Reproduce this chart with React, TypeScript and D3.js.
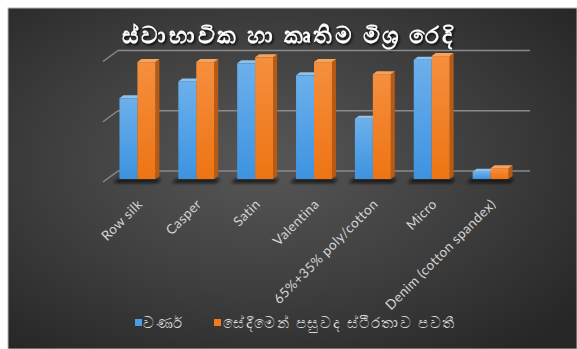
import React from "react";
import * as d3 from "d3";

const categories = ["Row silk", "Casper", "Satin", "Valentina", "65%+35% poly/cotton", "Micro", "Denim (cotton spandex)"];
const seriesNames = ["වර්ණ", "සේදීමෙන් පසුවද ස්ථීරතාව පවතී"];
const colourValues = [67, 81, 96, 86, 50, 99, 6];
const fastnessValues = [97, 97, 101, 97, 87, 102, 9];
const gridTicks = [0, 50, 100];
const title = "ස්වාභාවික හා කෘතිම මිශ්‍ර රෙදි";

const W = 577;
const H = 349;

export default function App() {
  const x = d3.scaleBand<string>().domain(categories).range([108, 520]).paddingInner(0.39).paddingOuter(0.195);
  const xs = d3.scaleBand<number>().domain([0, 1]).range([0, x.bandwidth()]);
  const y = d3.scaleLinear().domain([0, 100]).range([179, 58.5]);
  const series = [colourValues, fastnessValues];
  const fronts = ["url(#gBlue)", "url(#gOrange)"];
  const sides = ["#2f75b8", "#b85a12"];
  const tops = ["#8cc2f0", "#f7a35c"];
  const legendColors = ["#4a9ee6", "#f07c1e"];
  const dx = 4, dy = -3;
  const font = "Lato, 'Noto Sans', 'DejaVu Sans', sans-serif";

  return (
    <svg width={W} height={H} style={{ position: "absolute", left: 0, top: 0, display: "block" }} fontFamily={font}>
      <defs>
        <radialGradient id="bg" cx="45%" cy="45%" r="70%">
          <stop offset="0%" stopColor="#575757" />
          <stop offset="55%" stopColor="#3e3e3e" />
          <stop offset="100%" stopColor="#272727" />
        </radialGradient>
        <linearGradient id="gBlue" x1="0" y1="0" x2="0" y2="1">
          <stop offset="0%" stopColor="#6cb0ec" />
          <stop offset="100%" stopColor="#3d93e0" />
        </linearGradient>
        <linearGradient id="gOrange" x1="0" y1="0" x2="0" y2="1">
          <stop offset="0%" stopColor="#f58f3e" />
          <stop offset="100%" stopColor="#ee7413" />
        </linearGradient>
        <filter id="blur" x="-20%" y="-100%" width="140%" height="300%">
          <feGaussianBlur stdDeviation="1.5" />
        </filter>
        <filter id="tshadow" x="-10%" y="-30%" width="120%" height="160%">
          <feDropShadow dx="1.5" dy="1.5" stdDeviation="1" floodColor="#000" floodOpacity="0.9" />
        </filter>
      </defs>
      <rect x={0} y={0} width={W} height={H} fill="#ffffff" />
      <rect x={8} y={8} width={W - 8} height={H - 8} fill="url(#bg)" stroke="#b8b8b8" strokeWidth={1} />

      <text x={288} y={43} textAnchor="middle" fontSize={23} letterSpacing={2.6} fontWeight="bold" fill="#ffffff" filter="url(#tshadow)">
        {title}
      </text>

      {gridTicks.map((t) => (
        <g key={t}>
          <line x1={103} y1={y(t) + 3} x2={118} y2={y(t) - 8} stroke="#8a8a8a" strokeWidth={1.5} />
          <line x1={118} y1={y(t) - 8} x2={530} y2={y(t) - 8} stroke="#8a8a8a" strokeWidth={1.5} />
        </g>
      ))}

      {categories.map((c) => {
        const gx = x(c)!;
        const gw = x.bandwidth();
        return (
          <polygon
            key={"sh" + c}
            points={`${gx - 2},${y(0)} ${gx + gw + 6},${y(0)} ${gx + gw + 2},${y(0) + 4} ${gx - 6},${y(0) + 4}`}
            fill="#111"
            opacity={0.85}
            filter="url(#blur)"
          />
        );
      })}

      {categories.map((c, i) => (
        <g key={c}>
          {series.map((vals, s) => {
            const bx = x(c)! + xs(s)!;
            const bw = xs.bandwidth();
            const top = y(vals[i]);
            const base = y(0);
            return (
              <g key={s}>
                <polygon
                  points={`${bx + bw},${top} ${bx + bw + dx},${top + dy} ${bx + bw + dx},${base + dy} ${bx + bw},${base}`}
                  fill={sides[s]}
                />
                <polygon
                  points={`${bx},${top} ${bx + dx},${top + dy} ${bx + bw + dx},${top + dy} ${bx + bw},${top}`}
                  fill={tops[s]}
                />
                <rect x={bx} y={top} width={bw} height={base - top} fill={fronts[s]} />
              </g>
            );
          })}
        </g>
      ))}

      {categories.map((c) => {
        const cx = x(c)! + x.bandwidth() / 2 + 6;
        const cy = 205;
        return (
          <text
            key={"l" + c}
            x={cx}
            y={cy}
            transform={`rotate(-45 ${cx} ${cy})`}
            textAnchor="end"
            fontSize={13.5}
            letterSpacing={0.4}
            fill="#d4d4d4"
          >
            {c}
          </text>
        );
      })}

      <g>
        <rect x={135} y={319} width={7} height={7} fill={legendColors[0]} />
        <text x={143} y={328} fontSize={15} letterSpacing={1.6} fill="#d9d9d9">{seriesNames[0]}</text>
        <rect x={214} y={319} width={7} height={7} fill={legendColors[1]} />
        <text x={223} y={328} fontSize={15} letterSpacing={1.6} fill="#d9d9d9">{seriesNames[1]}</text>
      </g>
    </svg>
  );
}
